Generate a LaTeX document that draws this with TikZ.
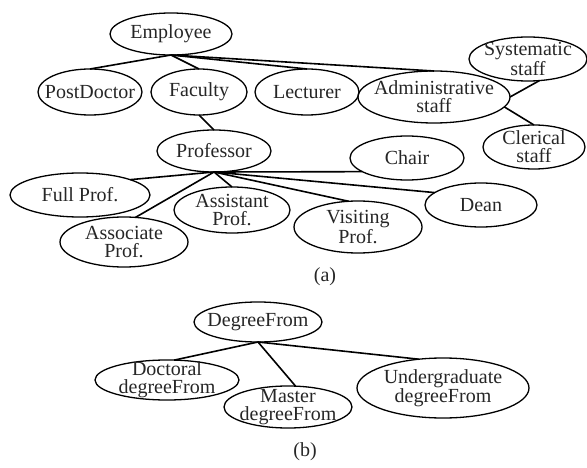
\documentclass[tikz,border=0pt]{standalone}
\usepackage{fontspec}
\setmainfont{Liberation Serif}
\usetikzlibrary{shapes.geometric}
\tikzset{
  txt/.style={font=\fontsize{20}{18}\selectfont, align=center, inner sep=0pt, text=black!85},
  ell/.style n args={3}{ellipse, draw, line width=1.3pt, inner sep=0pt, outer sep=0pt,
     minimum width=#1pt, minimum height=#2pt, label={[txt]center:{#3}}},
  edge/.style={line width=1.6pt}
}
\begin{document}
\begin{tikzpicture}[x=1pt,y=-1pt]
\useasboundingbox (0,0) rectangle (587,468);
% part (a)
\node[ell={122}{42}{Employee}] (emp) at (171,34) {};
\node[ell={104}{46}{PostDoctor}] (post) at (90,92) {};
\node[ell={96}{46}{Faculty}] (fac) at (199,92) {};
\node[ell={104}{46}{Lecturer}] (lec) at (307,92) {};
\node[ell={152}{52}{Administrative\\staff}] (adm) at (434,97) {};
\node[ell={118}{44}{Systematic\\staff}] (sys) at (528,59) {};
\node[ell={102}{44}{Clerical\\staff}] (cler) at (534,147) {};
\node[ell={114}{42}{Professor}] (prof) at (214,151) {};
\node[ell={140}{44}{Full Prof.}] (full) at (80,195) {};
\node[ell={128}{50}{Associate\\Prof.}] (assoc) at (124,242) {};
\node[ell={116}{46}{Assistant\\Prof.}] (assist) at (232,210) {};
\node[ell={128}{52}{Visiting\\Prof.}] (vis) at (358,227) {};
\node[ell={114}{44}{Chair}] (chair) at (407,158) {};
\node[ell={112}{44}{Dean}] (dean) at (481,205) {};
\node[txt] (capa) at (325,277) {(a)};
\draw[edge] (emp.south) -- (post.north);
\draw[edge] (emp.south) -- (fac.north);
\draw[edge] (emp.south) -- (lec.north);
\draw[edge] (emp.south) -- (adm.north);
\draw[edge] (adm.east) -- (sys.-62);
\draw[edge] (adm.-8) -- (cler.north);
\draw[edge] (fac.south) -- (prof.north);
\draw[edge] (prof.south) -- (full.17);
\draw[edge] (prof.south) -- (assoc.65);
\draw[edge] (prof.south) -- (assist.north);
\draw[edge] (prof.south) -- (vis.110);
\draw[edge] (prof.south) -- (chair.197);
\draw[edge] (prof.south) -- (dean.165);
% part (b)
\node[ell={128}{40}{DegreeFrom}] (deg) at (258,322) {};
\node[ell={144}{40}{Doctoral\\degreeFrom}] (doc) at (167,380) {};
\node[ell={128}{42}{Master\\degreeFrom}] (mas) at (288,407) {};
\node[ell={172}{60}{Undergraduate\\degreeFrom}] (und) at (443,388) {};
\node[txt] (capb) at (305,452) {(b)};
\draw[edge] (deg.south) -- (doc.70);
\draw[edge] (deg.south) -- (mas.70);
\draw[edge] (deg.south) -- (und.130);
\end{tikzpicture}
\end{document}
